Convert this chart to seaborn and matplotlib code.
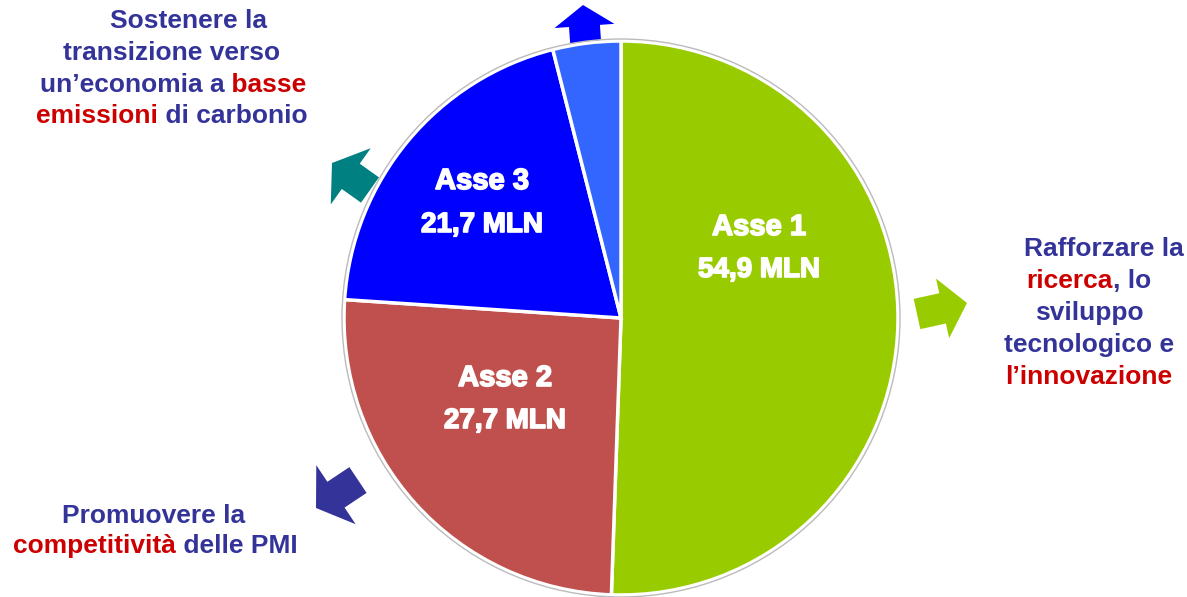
import matplotlib
matplotlib.use("Agg")
import matplotlib.pyplot as plt
import matplotlib.patches as mpatches
import matplotlib.patheffects as pe
from matplotlib.offsetbox import TextArea, HPacker, AnnotationBbox
import seaborn as sns

# dati
assi = ["Asse 1", "Asse 2", "Asse 3", ""]
milioni = [54.9, 27.7, 21.7, 4.3]
etichette_mln = ["54,9 MLN", "27,7 MLN", "21,7 MLN", ""]
colori = ["#99CC00", "#C0504D", "#0000FF", "#3366FF"]

BLU = "#333399"
ROSSO = "#CC0000"

# testi esterni: (testo, colore) per ogni riga
obiettivo_asse3 = [
    [("Sostenere la", BLU)],
    [("transizione verso", BLU)],
    [("un’economia a", BLU), (" basse", ROSSO)],
    [("emissioni", ROSSO), (" di carbonio", BLU)],
]
obiettivo_asse1 = [
    [("Rafforzare la", BLU)],
    [("ricerca", ROSSO), (", lo", BLU)],
    [("sviluppo", BLU)],
    [("tecnologico e", BLU)],
    [("l’innovazione", ROSSO)],
]
obiettivo_asse2 = [
    [("Promuovere la", BLU)],
    [("competitività", ROSSO), (" delle PMI", BLU)],
]

sns.set_theme(style="white")
plt.rcParams['font.family'] = ['Liberation Sans', 'DejaVu Sans']

W, H = 1187, 597
fig = plt.figure(figsize=(W / 100, H / 100), dpi=100)
ax = fig.add_axes([0, 0, 1, 1])

cx, cy, r = 621, 318, 277
ax.pie(milioni, colors=colori, center=(cx, cy), radius=r,
       startangle=-90, counterclock=True,
       wedgeprops=dict(edgecolor="white", linewidth=2.5))
ax.add_patch(mpatches.Circle((cx, cy), r + 2, fill=False,
                             edgecolor="#BBBBBB", linewidth=1))
ax.set_xlim(0, W)
ax.set_ylim(H, 0)
ax.set_aspect("equal")
ax.axis("off")

# etichette nel grafico
grassetto = [pe.withStroke(linewidth=1.2, foreground="white")]
pos_etichette = [(759, 227, 270), (505, 378, 421), (482, 181, 225)]
for nome, val, (x, y1, y2) in zip(assi, etichette_mln, pos_etichette):
    ax.text(x, y1, nome, color="white", fontsize=21, fontweight="bold",
            ha="center", va="center", path_effects=grassetto)
    ax.text(x, y2, val, color="white", fontsize=20, fontweight="bold",
            ha="center", va="center", path_effects=grassetto)


def blocco(righe, centri_x, centri_y):
    for riga, x, y in zip(righe, centri_x, centri_y):
        pezzi = [TextArea(t, textprops=dict(color=c, fontsize=19,
                                            fontweight="bold"))
                 for t, c in riga]
        box = HPacker(children=pezzi, pad=0, sep=0, align="baseline")
        ab = AnnotationBbox(box, (x, y), xycoords="data", frameon=False,
                            box_alignment=(0.5, 0.5), pad=0)
        ax.add_artist(ab)


blocco(obiettivo_asse3, [188, 172, 173, 172], [21, 53, 85, 116])
blocco(obiettivo_asse1, [1104, 1089, 1089, 1089, 1089], [249, 281, 313, 345, 377])
blocco(obiettivo_asse2, [154, 155], [516, 546])

# frecce
frecce = [
    # x, y, dx, dy, larghezza testa, lunghezza testa, colore
    (586, 48, -3, -43, 60, 21, "#0000FF"),
    (370, 190, -38, -27, 69, 23, "#008080"),
    (917, 314, 50, -11, 61, 25, "#99CC00"),
    (358, 480, -42, 28, 71, 24, "#333399"),
]
for x, y, dx, dy, hw, hl, c in frecce:
    ax.add_patch(mpatches.FancyArrow(x, y, dx, dy, width=31, head_width=hw,
                                     head_length=hl, length_includes_head=True,
                                     color=c, linewidth=0, zorder=0.5))

fig.savefig("out.png", dpi=100)
